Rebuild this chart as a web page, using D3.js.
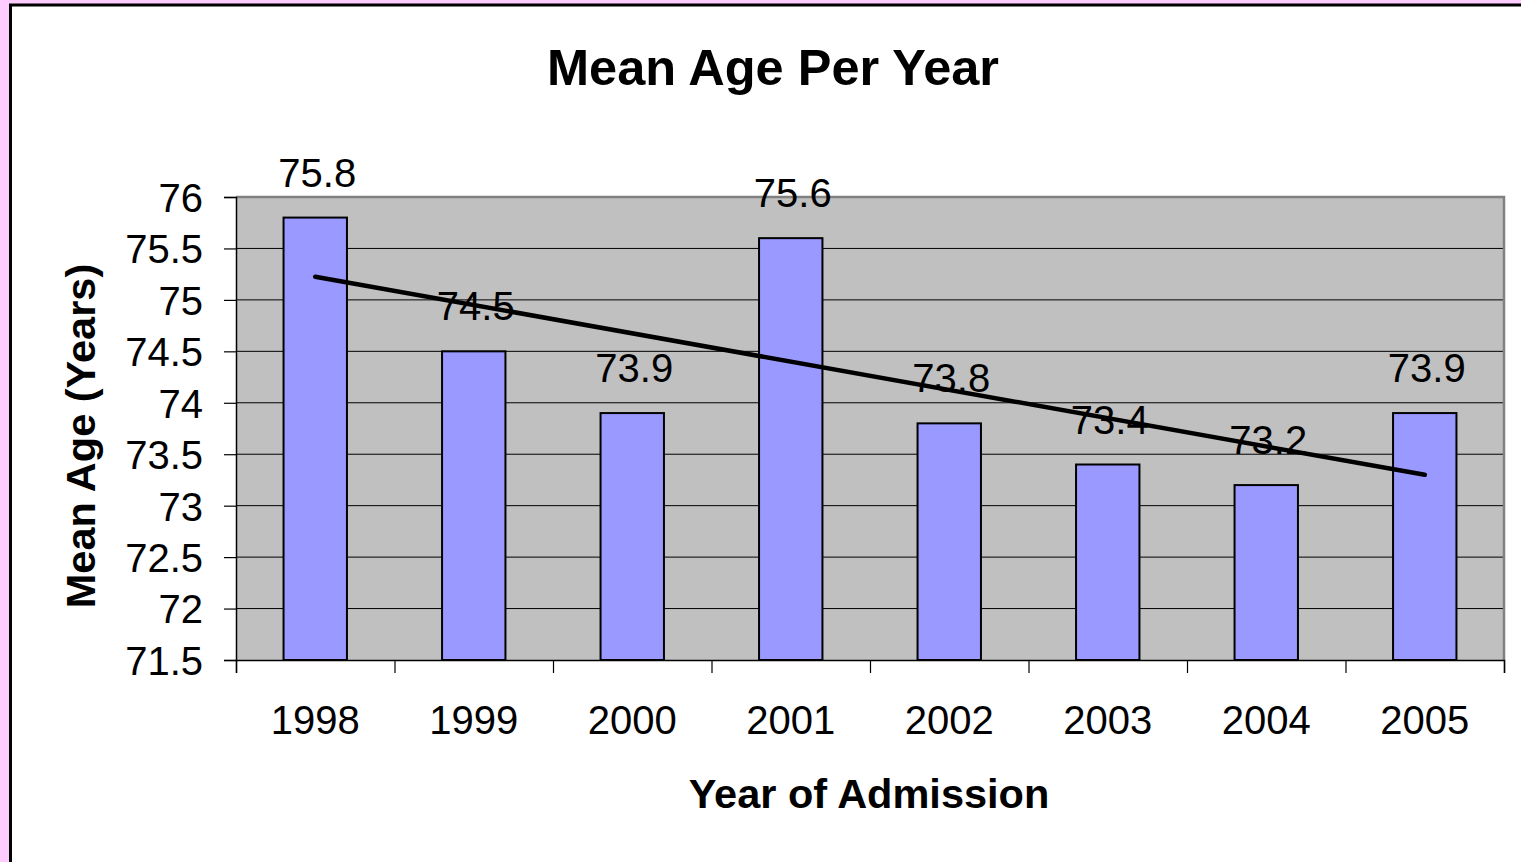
<!DOCTYPE html>
<html><head><meta charset="utf-8">
<script src="https://cdn.jsdelivr.net/npm/d3@7"></script>
<style>html,body{margin:0;padding:0;background:#ffccff;overflow:hidden}</style>
</head><body>
<svg id="c" width="1521" height="862"></svg>
<script>
const years = ["1998","1999","2000","2001","2002","2003","2004","2005"];
const meanAge = [75.8, 74.5, 73.9, 75.6, 73.8, 73.4, 73.2, 73.9];
const yTicks = [71.5, 72, 72.5, 73, 73.5, 74, 74.5, 75, 75.5, 76];
const titleText = "Mean Age Per Year";
const xTitle = "Year of Admission";
const yTitle = "Mean Age (Years)";

const svg = d3.select("#c");
const font = "Arial, 'Liberation Sans', sans-serif";
// frame
svg.append("rect").attr("x",10.5).attr("y",5).attr("width",1530).attr("height",880)
  .attr("fill","#fff").attr("stroke","#000").attr("stroke-width",3);

const L=236, R=1504, T=197, B=660;
const x = d3.scaleBand().domain(years).range([L,R]).paddingInner(0).paddingOuter(0);
const y = d3.scaleLinear().domain([71.5,76]).range([B,T]);

svg.append("rect").attr("x",L).attr("y",T).attr("width",R-L).attr("height",B-T).attr("fill","#c0c0c0");
// gridlines
svg.append("g").selectAll("line").data(yTicks.filter(v=>v>71.5 && v<76)).join("line")
  .attr("x1",L).attr("x2",R).attr("y1",d=>y(d)).attr("y2",d=>y(d))
  .attr("stroke","#000").attr("stroke-width",1);
// top/right border
svg.append("path").attr("d",`M${L},${T} H${R} V${B}`).attr("fill","none").attr("stroke","#808080").attr("stroke-width",2.5);

// bars
const bw = x.bandwidth()*0.4;
svg.append("g").selectAll("rect").data(meanAge).join("rect")
  .attr("x",(d,i)=>x(years[i])+x.bandwidth()/2-bw/2)
  .attr("y",d=>y(d)).attr("width",bw).attr("height",d=>B-y(d))
  .attr("fill","#9999ff").attr("stroke","#000").attr("stroke-width",2);

// axes
const yAxis = d3.axisLeft(y).tickValues(yTicks).tickSize(12).tickFormat(d=>String(d));
const gy = svg.append("g").attr("transform",`translate(${L},0)`).call(yAxis);
gy.select(".domain").attr("stroke","#000").attr("stroke-width",1.5);
gy.selectAll(".tick line").attr("stroke","#000").attr("stroke-width",1.2);
gy.selectAll(".tick text").attr("font-family",font).attr("font-size",40).attr("fill","#000")
  .attr("x",-33).attr("dy","0.36em");

const xb = d3.scaleLinear().domain([0,years.length]).range([L,R]);
const gx = svg.append("g").attr("transform",`translate(0,${B})`)
  .call(d3.axisBottom(xb).tickValues(d3.range(years.length+1)).tickSize(13).tickFormat(""));
gx.select(".domain").attr("stroke","#000").attr("stroke-width",1.5);
gx.selectAll(".tick line").attr("stroke","#000").attr("stroke-width",1.2);
svg.append("g").selectAll("text").data(years).join("text")
  .attr("x",d=>x(d)+x.bandwidth()/2).attr("y",734).attr("text-anchor","middle")
  .attr("font-family",font).attr("font-size",40).text(d=>d);

// trendline (linear regression)
const n = meanAge.length, xs = d3.range(1,n+1);
const mx = d3.mean(xs), my = d3.mean(meanAge);
const slope = d3.sum(xs,(v,i)=>(v-mx)*(meanAge[i]-my))/d3.sum(xs,v=>(v-mx)**2);
const icpt = my - slope*mx;
const cx = i => x(years[i])+x.bandwidth()/2;
svg.append("line").attr("x1",cx(0)).attr("y1",y(icpt+slope*1))
  .attr("x2",cx(n-1)).attr("y2",y(icpt+slope*n))
  .attr("stroke","#000").attr("stroke-width",4.5).attr("stroke-linecap","round");

// value labels
svg.append("g").selectAll("text").data(meanAge).join("text")
  .attr("x",(d,i)=>cx(i)+2).attr("y",d=>y(d)-31).attr("text-anchor","middle")
  .attr("font-family",font).attr("font-size",40).text(d=>d.toFixed(1));

// titles
svg.append("text").attr("x",773).attr("y",85).attr("text-anchor","middle")
  .attr("font-family",font).attr("font-weight","bold").attr("font-size",50.5).text(titleText);
svg.append("text").attr("x",869).attr("y",808).attr("text-anchor","middle")
  .attr("font-family",font).attr("font-weight","bold").attr("font-size",41.5).text(xTitle);
svg.append("text").attr("transform","translate(95,436) rotate(-90)").attr("text-anchor","middle")
  .attr("font-family",font).attr("font-weight","bold").attr("font-size",41.5).text(yTitle);
</script>
</body></html>
